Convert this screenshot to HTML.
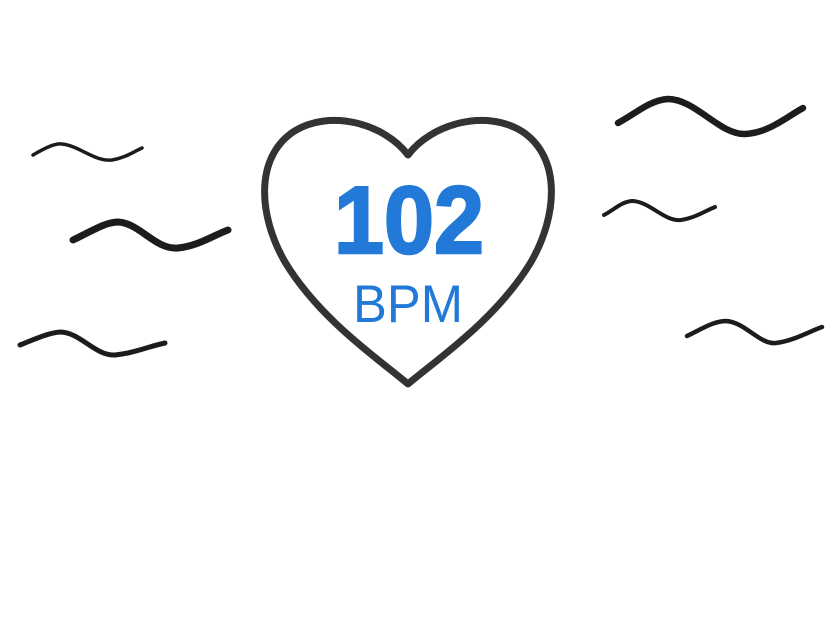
<!DOCTYPE html>
<html><head><style>
body{margin:0;background:#fff;width:840px;height:618px;overflow:hidden}
svg{display:block}
</style></head><body>
<svg width="840" height="618" viewBox="0 0 840 618">
<g fill="none" stroke="#1c1c1c" stroke-linecap="round">
<path d="M33,155 C45,148 55,143 62,144 C80,146 95,162 112,160 C125,158 133,152 142,148" stroke-width="3.5"/>
<path d="M73,240 C90,232 105,222 118,222 C140,223 155,250 178,248 C198,246 212,236 228,230" stroke-width="7"/>
<path d="M20,345 C35,339 48,333 60,332 C80,332 95,356 115,355 C135,353 150,346 165,343" stroke-width="5"/>
<path d="M618,123 C635,114 650,100 668,99 C695,99 720,135 745,134 C768,133 785,118 803,108" stroke-width="6.5"/>
<path d="M604,215 C614,210 622,201 633,201 C650,202 665,222 681,220 C695,218 705,211 715,207" stroke-width="4"/>
<path d="M687,336 C700,330 713,321 726,321 C745,322 760,345 776,343 C793,341 808,332 822,327" stroke-width="4.5"/>
</g>
<path d="M408,155 C385,124 330,108 293,132 C255,158 258,215 285,262 C320,320 380,360 408,384 C436,360 496,320 531,262 C558,215 561,158 523,132 C486,108 431,124 408,155 Z" fill="none" stroke="#333" stroke-width="7" stroke-linejoin="round"/>
<text x="409" y="253" text-anchor="middle" font-family="Liberation Sans, sans-serif" font-weight="bold" font-size="96" fill="#2379d8" stroke="#2379d8" stroke-width="2.5" textLength="150" lengthAdjust="spacingAndGlyphs">102</text>
<text x="408" y="322" text-anchor="middle" font-family="Liberation Sans, sans-serif" font-size="53" fill="#2379d8" textLength="110" lengthAdjust="spacingAndGlyphs">BPM</text>
</svg>
</body></html>
